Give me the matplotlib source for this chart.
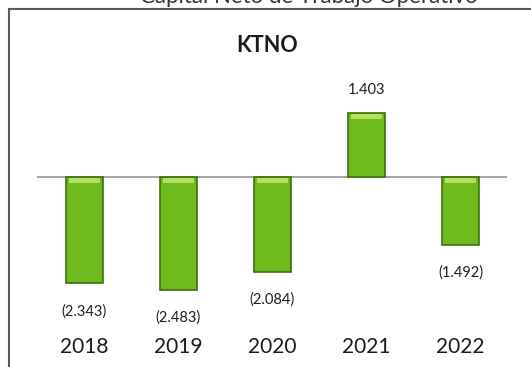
import matplotlib

matplotlib.use("Agg")

import matplotlib.pyplot as plt  # noqa: E402
import matplotlib.patches as mpatches  # noqa: E402

years = ["2018", "2019", "2020", "2021", "2022"]
ktno = [-2343, -2483, -2084, 1403, -1492]

BAR_COLOR = "#6fbb1e"
BAR_EDGE = "#3f6e12"
SHINE_COLOR = "#c8ea6e"
BAR_WIDTH = 0.39
FONT = "Lato"

plt.rcParams["font.family"] = [FONT, "DejaVu Sans"]


def fmt_value(v):
    """Spanish-style thousands, negatives in parentheses."""
    s = f"{abs(v):,}".replace(",", ".")
    return f"({s})" if v < 0 else s


fig = plt.figure(figsize=(5.31, 3.67), dpi=100)
fig.patch.set_facecolor("white")
ax = fig.add_axes([0.0706, 0.1714, 0.8851, 0.5441])

x = list(range(len(years)))
ax.bar(x, ktno, width=BAR_WIDTH, color=BAR_COLOR, edgecolor=BAR_EDGE,
       linewidth=1.2, zorder=2)

# light bevel band along the upper edge of each bar
shine_top = [max(v, 0) - 20 for v in ktno]
ax.bar(x, [-110] * len(x), bottom=shine_top, width=BAR_WIDTH * 0.86,
       color=SHINE_COLOR, alpha=0.8, linewidth=0, zorder=3)

ax.axhline(0, color="#8c8c8c", linewidth=1.1, zorder=1)

for xi, v in zip(x, ktno):
    dy = 16.5 if v >= 0 else -20
    ax.annotate(fmt_value(v), (xi, v), xytext=(0, dy),
                textcoords="offset points", ha="center", va="center",
                fontsize=10.5, color="#1f1f1f")

ax.set_xlim(-0.5, 4.5)
ax.set_ylim(-2800, 1600)
ax.set_xticks(x)
ax.set_xticklabels(years, fontsize=15, color="#1a1a1a")
ax.tick_params(axis="x", length=0, pad=24)
ax.set_yticks([])
for side in ax.spines.values():
    side.set_visible(False)
ax.set_facecolor("none")

fig.text(267 / 531, 1 - 45 / 367, "KTNO", ha="center", va="center",
         fontsize=15.5, fontweight="bold", color="#1a1a1a")

# page heading, running off the top edge
fig.text(140 / 531, 1 - 3 / 367, "Capital Neto de Trabajo Operativo",
         ha="left", va="baseline", fontsize=16, color="#333333")

frame = mpatches.Rectangle((9 / 531, -0.2), 1.2, 1.2 - 9 / 367,
                           transform=fig.transFigure, fill=False,
                           edgecolor="#5a5a5a", linewidth=1.5)
fig.add_artist(frame)

fig.savefig("out.png", dpi=100, facecolor="white")
plt.close(fig)
